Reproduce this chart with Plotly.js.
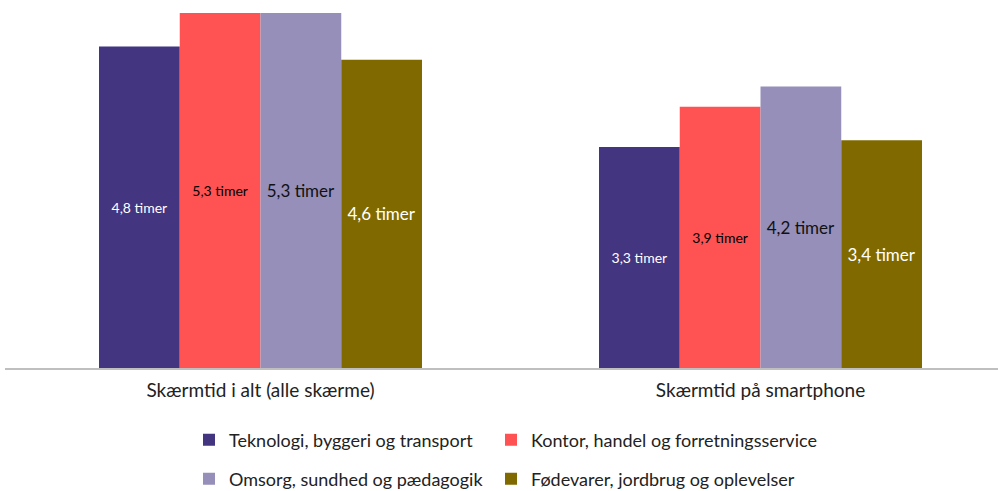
<!DOCTYPE html>
<html>
<head>
<meta charset="utf-8">
<script src="https://cdn.plot.ly/plotly-3.0.1.min.js"></script>
<style>html,body{margin:0;padding:0;background:#fff}#chart{width:998px;height:491px}</style>
</head>
<body>
<div id="chart"></div>
<script>
const categories = ["Skærmtid i alt (alle skærme)", "Skærmtid på smartphone"];
const seriesNames = [
  "Teknologi, byggeri og transport",
  "Kontor, handel og forretningsservice",
  "Omsorg, sundhed og pædagogik",
  "Fødevarer, jordbrug og oplevelser"
];
const teknologi = [4.8, 3.3];
const kontor = [5.3, 3.9];
const omsorg = [5.3, 4.2];
const foedevarer = [4.6, 3.4];
const labelSuffix = " timer";

const values = [teknologi, kontor, omsorg, foedevarer];
const colors = ["#433580", "#FF5252", "#958FBA", "#806A00"];
const textColors = ["#ffffff", "#000000", "#111111", "#ffffff"];
const textSizes = [14, 14, 17, 17];
const FONT = "'Source Sans Pro', Lato, 'Open Sans', sans-serif";

const legendPos = [
  {x: 189/998, y: (491-440)/491},
  {x: 491/998, y: (491-440)/491},
  {x: 189/998, y: (491-479)/491},
  {x: 491/998, y: (491-479)/491}
];
const legendKeys = ["legend", "legend2", "legend3", "legend4"];

const traces = values.map((v, i) => ({
  type: "bar",
  name: seriesNames[i],
  x: categories,
  y: v,
  text: v.map(n => n.toFixed(1).replace(".", ",") + labelSuffix),
  textposition: "inside",
  insidetextanchor: "middle",
  textangle: 0,
  textfont: {family: FONT, size: textSizes[i], color: textColors[i]},
  marker: {color: colors[i], line: {width: 0}},
  legend: legendKeys[i],
  hoverinfo: "skip",
  cliponaxis: false
}));

const layout = {
  width: 998, height: 491,
  margin: {l: 5, r: 0, t: 0, b: 123},
  paper_bgcolor: "#fff", plot_bgcolor: "#fff",
  font: {family: FONT, color: "#222"},
  barmode: "group",
  bargap: 0.354,
  bargroupgap: 0,
  xaxis: {
    range: [-0.511, 1.475],
    showgrid: false, zeroline: false,
    showline: true, linecolor: "#BFBFBF", linewidth: 1.5,
    ticks: "", ticklabelstandoff: 5,
    tickfont: {family: FONT, size: 19, color: "#222"},
    automargin: false,
    fixedrange: true
  },
  yaxis: {
    range: [0, 368/67],
    visible: false, showgrid: false, zeroline: false, fixedrange: true
  },
  showlegend: true
};
legendKeys.forEach((k, i) => {
  layout[k] = {
    x: legendPos[i].x, y: legendPos[i].y, xref: "container", yref: "container",
    xanchor: "left", yanchor: "middle",
    orientation: "h", bgcolor: "rgba(0,0,0,0)",
    font: {family: FONT, size: 18, color: "#222"}
  };
});

Plotly.newPlot("chart", traces, layout, {displayModeBar: false, staticPlot: true});
</script>
</body>
</html>
